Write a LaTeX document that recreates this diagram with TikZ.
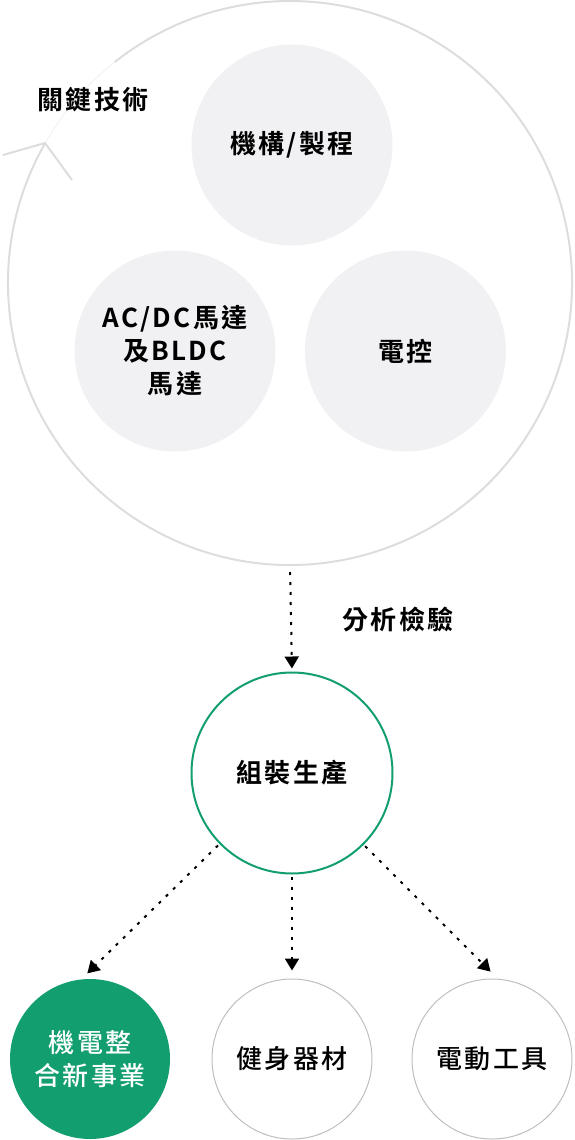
\documentclass[tikz,border=0pt]{standalone}
\usepackage{fontspec}
\setmainfont{Noto Sans CJK TC}[LetterSpace=9, BoldFont={Noto Sans CJK TC Bold}]
\newfontfamily\mediumfont{Noto Sans CJK TC Medium}[LetterSpace=9]
\usepackage{tikz}
\usetikzlibrary{arrows.meta,positioning}

\definecolor{techgreen}{RGB}{18,158,110}
\definecolor{bubblegray}{RGB}{241,241,244}
\definecolor{ringgray}{RGB}{221,221,221}
\definecolor{linegray}{RGB}{190,190,190}

\tikzset{
  ring/.style={draw=ringgray, line width=2pt},
  fadering/.style={draw=ringgray!45, line width=0.8pt},
  bubble/.style={circle, fill=bubblegray, minimum size=201pt, inner sep=0pt,
    align=center, font=\fontsize{26}{33}\selectfont\bfseries},
  stage/.style={circle, draw=techgreen, line width=2pt, minimum size=201pt,
    inner sep=0pt, font=\fontsize{26}{33}\selectfont\bfseries},
  outcome/.style={circle, draw=linegray, line width=1pt, minimum size=160pt,
    inner sep=0pt, align=center, font=\fontsize{26}{33}\selectfont\mediumfont},
  chosen/.style={outcome, draw=none, fill=techgreen, text=white},
  caption/.style={font=\fontsize{26}{33}\selectfont\bfseries},
  flow/.style={line width=2pt, dash pattern=on 3pt off 7pt,
    -{Triangle[width=14pt,length=12pt]}}
}

\begin{document}
\begin{tikzpicture}[x=1pt, y=1pt]
  \useasboundingbox (0,0) rectangle (575,-1140);

  % key technology ring
  \coordinate (bigc) at (290,-283);
  \coordinate (tip)  at (45,-143);
  \coordinate (armL) at (3,-155);
  \coordinate (armR) at (72,-180);
  \draw[ring] (bigc) ++(150.3:282) arc[start angle=150.3, end angle=488.4, radius=282];
  \draw[fadering] (bigc) ++(128.4:282) arc[start angle=128.4, end angle=150.3, radius=282];
  \draw[ring] (armL) -- (tip) -- (armR);

  \node[caption]  (keytech)  at (93,-100)  {關鍵技術};
  \node[bubble]   (mech)     at (292,-145) {機構/製程};
  \node[bubble]   (motor)    at (175,-351) {AC/DC馬達\\及BLDC\\馬達};
  \node[bubble]   (ctrl)     [right=29pt of motor] {電控};

  % production
  \node[stage]    (assembly) at (292,-773) {組裝生產};
  \node[caption]  (analysis) at (398,-620) {分析檢驗};

  % outcomes
  \node[outcome]  (fitness)  [below=104pt of assembly] {健身器材};
  \node[chosen]   (newbiz)   [left=41pt of fitness]    {機電整\\合新事業};
  \node[outcome]  (tools)    [right=39pt of fitness]   {電動工具};

  \draw[flow, shorten <=7pt, shorten >=3pt] (290,-565) -- (assembly.north);
  \path (assembly) edge[flow, shorten <=2pt, shorten >=8pt] (fitness.north)
                   edge[flow, shorten <=2pt, shorten >=8pt] (newbiz.96)
                   edge[flow, shorten <=2pt, shorten >=10pt] (tools.86);
\end{tikzpicture}
\end{document}
